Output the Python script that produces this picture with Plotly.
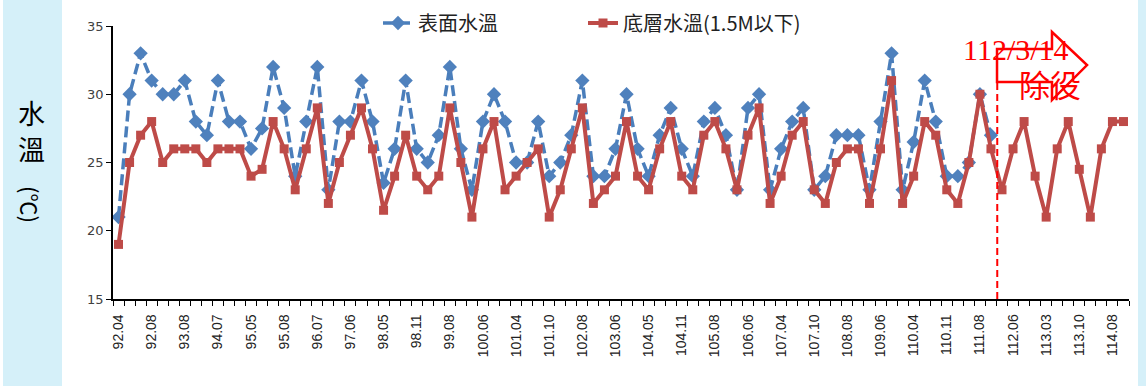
import plotly.graph_objects as go

# ---------------- data ----------------
tick_labels = ["92.04", "92.08", "93.08", "94.07", "95.05", "95.08", "96.07", "97.06",
               "98.05", "98.11", "99.08", "100.06", "101.04", "101.10", "102.08", "103.06",
               "104.05", "104.11", "105.08", "106.06", "107.04", "107.10", "108.08", "109.06",
               "110.04", "110.11", "111.08", "112.06", "113.03", "113.10", "114.08"]

surface_temp = [21, 30, 33, 31, 30, 30, 31, 28, 27, 31,
                28, 28, 26, 27.5, 32, 29, 24, 28, 32, 23,
                28, 28, 31, 28, 23.5, 26, 31, 26, 25, 27,
                32, 26, 23, 28, 30, 28, 25, 25, 28, 24,
                25, 27, 31, 24, 24, 26, 30, 26, 24, 27,
                29, 26, 24, 28, 29, 27, 23, 29, 30, 23,
                26, 28, 29, 23, 24, 27, 27, 27, 23, 28,
                33, 23, 26.5, 31, 28, 24, 24, 25, 30, 27,
                None, None, None, None, None, None, None, None, None, None,
                None, None]

bottom_temp = [19, 25, 27, 28, 25, 26, 26, 26, 25, 26,
               26, 26, 24, 24.5, 28, 26, 23, 26, 29, 22,
               25, 27, 29, 26, 21.5, 24, 27, 24, 23, 24,
               29, 25, 21, 26, 28, 23, 24, 25, 26, 21,
               23, 26, 29, 22, 23, 24, 28, 24, 23, 26,
               28, 24, 23, 27, 28, 26, 23, 27, 29, 22,
               24, 27, 28, 23, 22, 25, 26, 26, 22, 26,
               31, 22, 24, 28, 27, 23, 22, 25, 30, 26,
               23, 26, 28, 24, 21, 26, 28, 24.5, 21, 26,
               28, 28]

label_step = 3
event_position = 79.57   # 112/3/14 decommission, between samples

series_names = ["表面水溫", "底層水溫(1.5M以下)"]

# ---------------- figure ----------------
W, H = 1146, 386
ML, MR, MT, MB = 113, 17, 26, 87
PW, PH = W - ML - MR, H - MT - MB


def px2paper(px, py):
    return (px - ML) / PW, (H - MB - py) / PH


n = len(bottom_temp)
xs = list(range(n))

fig = go.Figure()
fig.add_trace(go.Scatter(
    x=xs, y=surface_temp, name=series_names[0], mode="lines+markers",
    line=dict(color="#4A7EBB", width=3.5, dash="11px,5px"),
    marker=dict(symbol="diamond", size=11, color="#4F81BD"),
    connectgaps=False, legend="legend",
))
fig.add_trace(go.Scatter(
    x=xs, y=bottom_temp, name=series_names[1], mode="lines+markers",
    line=dict(color="#BE4B48", width=4),
    marker=dict(symbol="square", size=9, color="#BE4B48"),
    legend="legend2",
))

# background panels
bg_blue = "#D5F0F9"
x0, _ = px2paper(3, 0)
x1, _ = px2paper(62, 0)
_, yb = px2paper(0, H)
_, yt = px2paper(0, 0)
fig.add_shape(type="rect", xref="paper", yref="paper", x0=x0, x1=x1, y0=yb, y1=yt,
              fillcolor=bg_blue, line=dict(width=0), layer="below")
x2, _ = px2paper(1138, 0)
x3, _ = px2paper(W, 0)
fig.add_shape(type="rect", xref="paper", yref="paper", x0=x2, x1=x3, y0=yb, y1=yt,
              fillcolor=bg_blue, line=dict(width=0), layer="below")

# event line
fig.add_shape(type="line", xref="x", yref="y", x0=event_position, x1=event_position,
              y0=15, y1=31, line=dict(color="#FF0000", width=2, dash="7px,4px"))

# arrow outline
arrow_px = [(997, 49), (1052, 49), (1052, 32), (1087, 65), (1052, 100), (1052, 82), (997, 82)]
pts = [px2paper(a, b) for a, b in arrow_px]
path = "M " + " L ".join(f"{p[0]:.4f},{p[1]:.4f}" for p in pts) + " Z"
fig.add_shape(type="path", xref="paper", yref="paper", path=path,
              line=dict(color="#FF0000", width=2.5), fillcolor="rgba(0,0,0,0)")


def label(px, py, text, size, family, color, angle=0):
    ax, ay = px2paper(px, py)
    fig.add_annotation(xref="paper", yref="paper", x=ax, y=ay, text=text, showarrow=False,
                       xanchor="center", yanchor="middle", textangle=angle,
                       font=dict(family=family, size=size, color=color))


label(1016, 49, "112/3/14", 30, "Liberation Serif", "#FF0000")
label(1050, 83, "除役", 31, "Noto Sans CJK TC", "#FF0000")

# y axis title
label(31, 112, "水", 27, "Noto Sans CJK TC", "#000000")
label(31, 148, "溫", 27, "Noto Sans CJK TC", "#000000")
label(31, 204, "(℃)", 22, "Noto Sans CJK TC", "#000000", angle=90)

legend_font = dict(family="Noto Sans CJK TC", size=20, color="#222222")
l1x, l1y = px2paper(378, 23)
l2x, l2y = px2paper(583, 23)
fig.update_layout(
    width=W, height=H,
    margin=dict(l=ML, r=MR, t=MT, b=MB, pad=0, autoexpand=False),
    paper_bgcolor="white", plot_bgcolor="white",
    showlegend=True,
    legend=dict(orientation="h", x=l1x, y=l1y, xanchor="left", yanchor="middle",
                font=legend_font, bgcolor="rgba(0,0,0,0)"),
    legend2=dict(orientation="h", x=l2x, y=l2y, xanchor="left", yanchor="middle",
                 font=legend_font, bgcolor="rgba(0,0,0,0)"),
    xaxis=dict(range=[-0.5, n - 0.5], tickmode="array", automargin=False,
               tickvals=list(range(0, n, label_step))[:len(tick_labels)],
               ticktext=tick_labels, tickangle=-90, ticks="",
               tickfont=dict(family="Liberation Sans", size=14, color="#222222"),
               showline=True, linecolor="black", linewidth=1.5, showgrid=False,
               zeroline=False, ticklabelstandoff=8,
               minor=dict(ticks="outside", tickmode="linear", tick0=-0.5, dtick=1,
                          ticklen=5, tickcolor="black", tickwidth=1, showgrid=False)),
    yaxis=dict(range=[15, 35], dtick=5, ticks="outside", ticklen=5, tickcolor="black",
               showline=True, linecolor="black", linewidth=1.5, showgrid=False,
               zeroline=False, automargin=False,
               tickfont=dict(family="DejaVu Sans", size=13, color="#404040")),
)

fig.write_html("out.html", config={"displayModeBar": False},
               post_script="document.body.style.margin='0px';document.body.style.padding='0px';")
